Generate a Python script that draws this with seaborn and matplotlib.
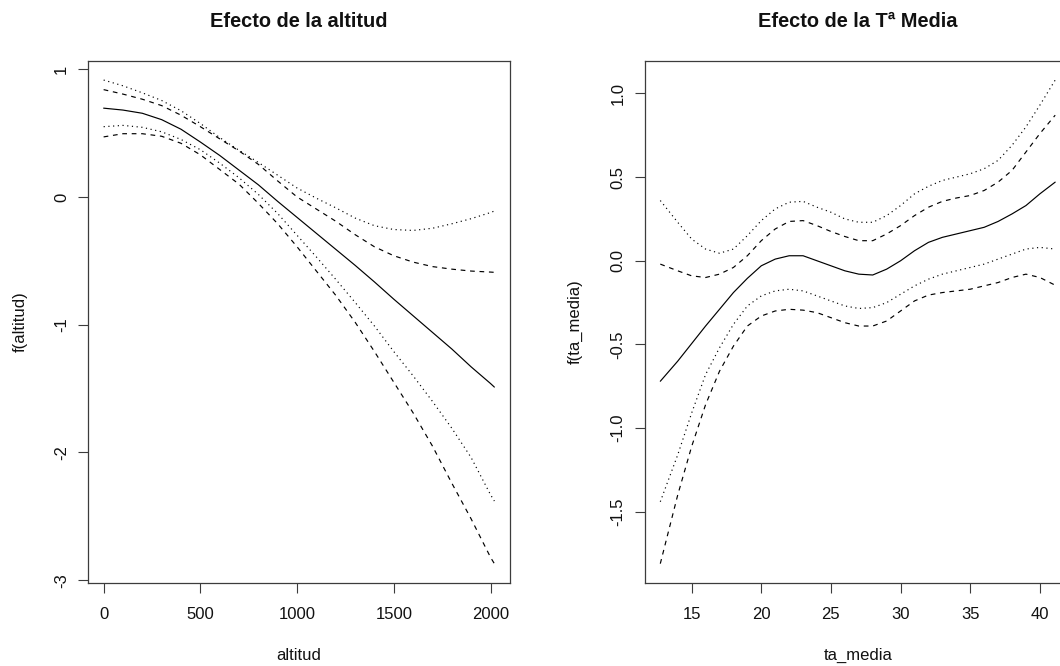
import matplotlib
matplotlib.use("Agg")
import matplotlib.pyplot as plt
from matplotlib.ticker import FormatStrFormatter
import seaborn as sns

# --- smooth term for altitude: fit, +/-2 SE band (dashed), alternative band (dotted)
altitud = [0, 100, 200, 300, 400, 500, 600, 700, 800, 900, 1000, 1100, 1200, 1300,
           1400, 1500, 1600, 1700, 1800, 1900, 2000, 2020]
alt_fit = [0.695, 0.68, 0.655, 0.605, 0.53, 0.43, 0.325, 0.21, 0.095, -0.035, -0.16,
           -0.285, -0.41, -0.535, -0.665, -0.80, -0.93, -1.06, -1.19, -1.33, -1.46, -1.488]
alt_se_hi = [0.84, 0.805, 0.765, 0.715, 0.64, 0.55, 0.455, 0.36, 0.255, 0.125, 0.0,
             -0.095, -0.19, -0.295, -0.39, -0.46, -0.51, -0.545, -0.565, -0.58, -0.588, -0.59]
alt_se_lo = [0.47, 0.495, 0.495, 0.475, 0.42, 0.33, 0.215, 0.10, -0.05, -0.21, -0.39,
             -0.58, -0.77, -0.98, -1.21, -1.45, -1.69, -1.95, -2.24, -2.52, -2.82, -2.87]
alt_ci_hi = [0.915, 0.87, 0.815, 0.755, 0.675, 0.575, 0.465, 0.365, 0.27, 0.17, 0.07,
             -0.01, -0.085, -0.165, -0.225, -0.255, -0.262, -0.245, -0.21, -0.17, -0.122, -0.11]
alt_ci_lo = [0.55, 0.56, 0.545, 0.51, 0.45, 0.37, 0.265, 0.15, 0.02, -0.13, -0.30,
             -0.47, -0.645, -0.825, -1.01, -1.21, -1.40, -1.60, -1.81, -2.04, -2.33, -2.38]

# --- smooth term for mean temperature
ta_media = [12.75, 14, 15, 16, 17, 18, 19, 20, 21, 22, 23, 24, 25, 26, 27, 28, 29,
            30, 31, 32, 33, 34, 35, 36, 37, 38, 39, 40, 41.1]
ta_fit = [-0.72, -0.60, -0.495, -0.39, -0.29, -0.19, -0.105, -0.03, 0.01, 0.03, 0.03, 0.00,
          -0.03, -0.06, -0.08, -0.085, -0.05, 0.00, 0.06, 0.11, 0.14, 0.16, 0.18, 0.20,
          0.235, 0.28, 0.33, 0.40, 0.47]
ta_se_hi = [-0.02, -0.06, -0.09, -0.10, -0.08, -0.04, 0.03, 0.12, 0.19, 0.235, 0.24, 0.21,
            0.175, 0.145, 0.12, 0.12, 0.16, 0.21, 0.27, 0.32, 0.355, 0.375, 0.39, 0.42,
            0.47, 0.54, 0.65, 0.76, 0.87]
ta_se_lo = [-1.81, -1.40, -1.11, -0.86, -0.66, -0.51, -0.39, -0.33, -0.30, -0.29, -0.295,
            -0.31, -0.34, -0.37, -0.39, -0.39, -0.36, -0.30, -0.24, -0.205, -0.19, -0.18,
            -0.17, -0.15, -0.13, -0.10, -0.08, -0.10, -0.146]
ta_ci_hi = [0.36, 0.23, 0.13, 0.07, 0.045, 0.07, 0.15, 0.24, 0.31, 0.35, 0.355, 0.32, 0.29,
            0.25, 0.23, 0.23, 0.27, 0.33, 0.40, 0.445, 0.48, 0.50, 0.52, 0.55, 0.60, 0.69,
            0.80, 0.93, 1.08]
ta_ci_lo = [-1.44, -1.16, -0.91, -0.68, -0.52, -0.38, -0.27, -0.21, -0.18, -0.17, -0.18,
            -0.21, -0.24, -0.27, -0.285, -0.28, -0.25, -0.20, -0.15, -0.11, -0.08, -0.06,
            -0.04, -0.02, 0.01, 0.04, 0.07, 0.08, 0.07]

alt_yticks = [-3, -2, -1, 0, 1]
alt_xticks = [0, 500, 1000, 1500, 2000]
ta_yticks = [-1.5, -1.0, -0.5, 0.0, 0.5, 1.0]
ta_xticks = [15, 20, 25, 30, 35, 40]

sns.set_style("ticks")
plt.rcParams["font.family"] = ["Liberation Sans", "DejaVu Sans"]
plt.rcParams["axes.unicode_minus"] = False

W, H = 1060, 666
fig = plt.figure(figsize=(W / 100, H / 100), dpi=100)


def px_rect(left, top, right, bottom):
    return [left / W, 1 - bottom / H, (right - left) / W, (bottom - top) / H]


def r_range(values):
    lo, hi = min(values), max(values)
    d = 0.04 * (hi - lo)
    return lo - d, hi + d


ax1 = fig.add_axes(px_rect(88, 60.7, 510, 583))
ax2 = fig.add_axes(px_rect(644.5, 60.7, 1071, 583))

LW = 0.85
styles = {"fit": "-", "se": (0, (4, 4)), "ci": (0, (1, 3))}


def draw_term(ax, x, fit, se_hi, se_lo, ci_hi, ci_lo):
    for y, kind in [(ci_hi, "ci"), (se_hi, "se"), (fit, "fit"), (ci_lo, "ci"), (se_lo, "se")]:
        sns.lineplot(x=x, y=y, ax=ax, color="black", linewidth=LW,
                     linestyle=styles[kind], estimator=None, sort=False)
    allv = fit + se_hi + se_lo + ci_hi + ci_lo
    ax.set_xlim(*r_range(x))
    ax.set_ylim(*r_range(allv))


draw_term(ax1, altitud, alt_fit, alt_se_hi, alt_se_lo, alt_ci_hi, alt_ci_lo)
draw_term(ax2, ta_media, ta_fit, ta_se_hi, ta_se_lo, ta_ci_hi, ta_ci_lo)

ax1.set_xticks(alt_xticks)
ax1.set_yticks(alt_yticks)
ax1.yaxis.set_major_formatter(FormatStrFormatter("%d"))
ax2.set_xticks(ta_xticks)
ax2.set_yticks(ta_yticks)
ax2.yaxis.set_major_formatter(FormatStrFormatter("%.1f"))

txt = "#111111"
for ax in (ax1, ax2):
    for sp in ax.spines.values():
        sp.set_visible(True)
        sp.set_color("#3c3c3c")
        sp.set_linewidth(0.9)
    ax.tick_params(direction="out", length=7, width=0.8, color="#3c3c3c",
                   labelsize=12, labelcolor=txt)
    ax.tick_params(axis="x", pad=10.6)
    ax.tick_params(axis="y", pad=6.7, labelrotation=90)
    plt.setp(ax.get_yticklabels(), va="center")

ax1.set_xlabel("altitud", fontsize=12, color=txt)
ax1.set_ylabel("f(altitud)", fontsize=12, color=txt)
ax2.set_xlabel("ta_media", fontsize=12, color=txt)
ax2.set_ylabel("f(ta_media)", fontsize=12, color=txt)
ax1.xaxis.set_label_coords(0.5, (583 - 648) / 522.3)
ax2.xaxis.set_label_coords(0.5, (583 - 648) / 522.3)
ax1.yaxis.set_label_coords((28 - 88) / 422, 0.5)
ax2.yaxis.set_label_coords((583 - 644.5) / 426.5, 0.5)

title_y = 1 + (60.7 - 21) / 522.3
ax1.set_title("Efecto de la altitud", fontsize=14.4, fontweight="bold", color=txt,
              y=title_y, pad=0, va="center")
ax2.set_title("Efecto de la Tª Media", fontsize=14.4, fontweight="bold", color=txt,
              y=title_y, pad=0, va="center")

fig.savefig("out.png", dpi=100)
